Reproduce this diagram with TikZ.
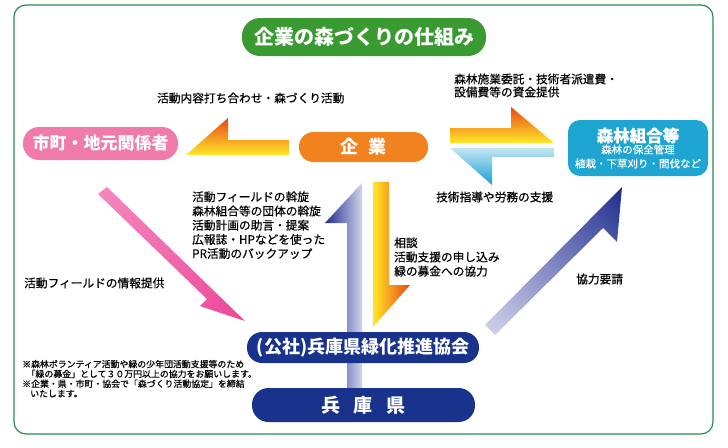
\documentclass[tikz,border=0pt]{standalone}
\usepackage{fontspec}
\setmainfont{Noto Sans CJK JP}
\newfontfamily\lblfont[FakeBold=0.6]{Noto Sans CJK JP}
\usepackage{xcolor}
\usepackage{tikz}
\usetikzlibrary{shadings}

\definecolor{framegreen}{RGB}{40,140,80}
\definecolor{titlegreen}{RGB}{58,154,50}
\definecolor{cityPink}{RGB}{240,122,170}
\definecolor{firmOrange}{RGB}{242,130,30}
\definecolor{unionBlue}{RGB}{30,165,210}
\definecolor{assocNavy}{RGB}{25,50,140}
\definecolor{warmRed}{RGB}{232,70,20}
\definecolor{warmYellow}{RGB}{255,232,40}
\definecolor{skyLight}{RGB}{195,230,242}
\definecolor{skyDeep}{RGB}{25,160,212}
\definecolor{lavLight}{RGB}{210,212,236}
\definecolor{lavMid}{RGB}{130,136,196}
\definecolor{lavDeep}{RGB}{30,45,140}
\definecolor{pinkLight}{RGB}{243,135,190}
\definecolor{pinkDeep}{RGB}{236,70,150}

\tikzset{
  pill/.style={inner sep=0, text=white, font=\fontsize{18}{22}\selectfont\bfseries},
  lbl/.style={inner sep=0, anchor=west, align=left, font=\lblfont\fontsize{11.7}{14.2}\selectfont},
}

\begin{document}
\begin{tikzpicture}[x=1pt,y=-1pt]
\useasboundingbox (0,0) rectangle (728,447);
\draw[framegreen, line width=1.2pt, rounded corners=12pt] (14,5) rectangle (713,434); %outer frame%

% half arrows
\coordinate (L1) at (289,140);
\coordinate (L2) at (228,140);
\coordinate (L3) at (228,118);
\coordinate (L4) at (186,155);
\coordinate (L5) at (289,155);
\shade[top color=warmRed, bottom color=warmYellow, middle color=firmOrange!80!warmYellow] (L1) -- (L2) -- (L3) -- (L4) -- (L5) -- cycle; %firm to city%

\coordinate (R1) at (450,128);
\coordinate (R2) at (511,128);
\coordinate (R3) at (511,107);
\coordinate (R4) at (554,143);
\coordinate (R5) at (450,143);
\shade[top color=warmRed, bottom color=warmYellow, middle color=firmOrange!80!warmYellow] (R1) -- (R2) -- (R3) -- (R4) -- (R5) -- cycle; %funds to union%

\coordinate (S1) at (450,148);
\coordinate (S2) at (554,148);
\coordinate (S3) at (554,157);
\coordinate (S4) at (492,157);
\coordinate (S5) at (492,185);
\shade[top color=skyLight, bottom color=skyDeep] (S1) -- (S2) -- (S3) -- (S4) -- (S5) -- cycle; %support to firm%

\coordinate (D1) at (373,182);
\coordinate (D2) at (389,182);
\coordinate (D3) at (389,285);
\coordinate (D4) at (410,285);
\coordinate (D5) at (373,327);
\shade[left color=warmYellow, right color=warmRed] (D1) -- (D2) -- (D3) -- (D4) -- (D5) -- cycle; %firm to association%

\coordinate (U1) at (347,400);
\coordinate (U2) at (347,223);
\coordinate (U3) at (325,223);
\coordinate (U4) at (362,183);
\coordinate (U5) at (362,400);
\shade[left color=lavDeep, right color=lavLight] (U1) -- (U2) -- (U3) -- (U4) -- (U5) -- cycle; %association to firm%

\coordinate (P1) at (98,194);
\coordinate (P2) at (107,187);
\coordinate (P3) at (245,321);
\coordinate (P4) at (200,306);
\coordinate (P5) at (207,299);
\shade[upper left=pinkLight, upper right=pinkLight!60!pinkDeep, lower left=pinkLight!60!pinkDeep, lower right=pinkDeep] (P1) -- (P2) -- (P3) -- (P4) -- (P5) -- cycle; %city to association%

\coordinate (B1) at (485,325);
\coordinate (B2) at (622,187);
\coordinate (B3) at (617,242);
\coordinate (B4) at (603,228);
\coordinate (B5) at (495,335);
\shade[lower left=lavLight, upper left=lavMid, lower right=lavMid, upper right=lavDeep] (B1) -- (B2) -- (B3) -- (B4) -- (B5) -- cycle; %association to union%

% boxes
\node[pill, fill=titlegreen, rounded corners=18pt, minimum width=244pt, minimum height=38pt, font=\fontsize{20}{24}\selectfont\bfseries] (title) at (364,37) {企業の森づくりの仕組み};
\node[pill, fill=cityPink, rounded corners=16pt, minimum width=155pt, minimum height=33pt, font=\fontsize{17}{20}\selectfont\bfseries] (city) at (100.5,143.5) {市町・地元関係者};
\node[pill, fill=firmOrange, rounded corners=14.5pt, minimum width=129pt, minimum height=30pt] (firm) at (363.5,147) {企\hspace{0.6em}業};
\node[pill, fill=unionBlue, rounded corners=12pt, minimum width=140pt, minimum height=56pt, align=center, font=\lblfont\fontsize{10.5}{14}\selectfont] (union) at (638,148)
  {{\bfseries\fontsize{16.5}{19}\selectfont 森林組合等}\\[-2.3pt]森林の保全管理\\植栽・下草刈り・間伐など};
\node[pill, fill=assocNavy, rounded corners=15pt, minimum width=232pt, minimum height=31pt, font=\fontsize{18}{22}\selectfont\bfseries] (assoc) at (363,347.5) {(公社)兵庫県緑化推進協会};
\node[pill, fill=assocNavy, rounded corners=16.5pt, minimum width=223pt, minimum height=34pt, font=\fontsize{19}{22}\selectfont\bfseries] (pref) at (363.5,405) {兵\hspace{0.7em}庫\hspace{0.7em}県};

% labels
\node[lbl] (meet) at (157,98) {活動内容打ち合わせ・森づくり活動};
\node[lbl, font=\lblfont\fontsize{11.7}{13}\selectfont] (fund) at (454,85.5) {森林施業委託・技術者派遣費・\\設備費等の資金提供};
\node[lbl] (tech) at (436,197) {技術指導や労務の支援};
\node[lbl] (help) at (192,225.2) {活動フィールドの斡旋\\森林組合等の団体の斡旋\\活動計画の助言・提案\\広報誌・HPなどを使った\\PR活動のバックアップ};
\node[lbl] (ask) at (394,257) {相談\\活動支援の申し込み\\緑の募金への協力};
\node[lbl] (info) at (24,283) {活動フィールドの情報提供};
\node[lbl] (req) at (576,279) {協力要請};
\node[lbl, font=\lblfont\fontsize{8.9}{9.8}\selectfont] (note) at (22,378.7) {※森林ボランティア活動や緑の少年団活動支援等のため\\\hspace*{0.5em}「緑の募金」として３０万円以上の協力をお願いします。\\※企業・県・市町・協会で「森づくり活動協定」を締結\\\hspace*{0.9em}いたします。};

\end{tikzpicture}
\end{document}
